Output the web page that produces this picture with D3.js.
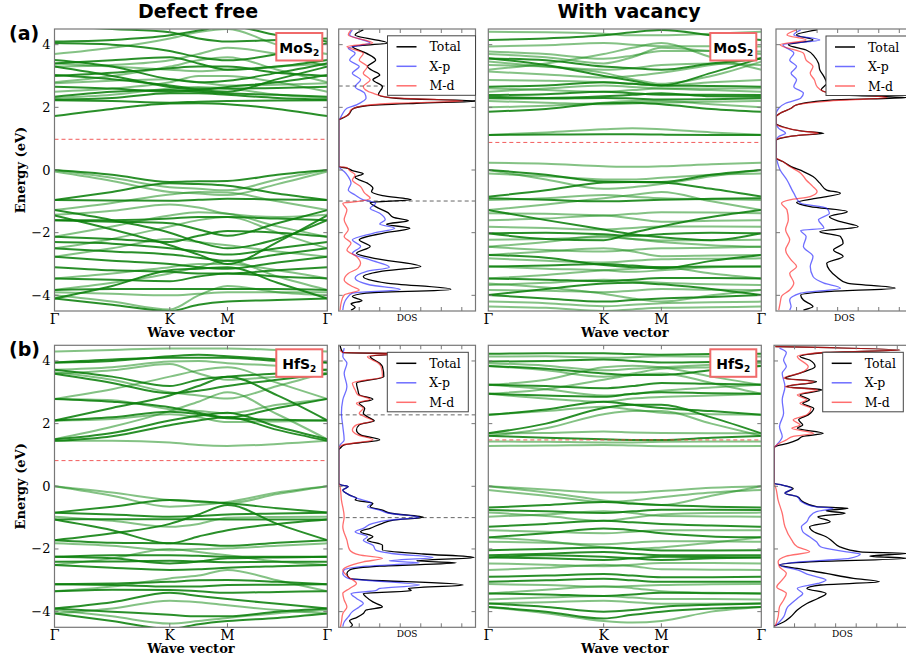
<!DOCTYPE html>
<html><head><meta charset="utf-8">
<script src="https://cdn.jsdelivr.net/npm/d3@7"></script>
<style>body{margin:0;background:#fff}svg{display:block}</style>
</head><body>
<svg id="c" width="906" height="659"></svg>
<script>
// ---------------- DATA ----------------
const kLabels = ["Γ", "K", "M", "Γ"];
const kLabelPos = [0, 0.4226, 0.634, 1];
const kNodes = [0, 0.2113, 0.4226, 0.528, 0.634, 0.817, 1];
const yTicks = [-4, -2, 0, 2, 4];
const columnTitles = ["Defect free", "With vacancy"];
const rowLabels = ["(a)", "(b)"];
const materials = ["MoS", "HfS"];
const legendNames = ["Total", "X-p", "M-d"];

// band energies (eV) at kNodes
const tlDark = [
 [1.72,1.95,2.12,2.13,2.1,1.95,1.72],[2.23,2.2,2.15,2.18,2.2,2.22,2.23],[2.25,2.3,2.45,2.45,2.4,2.3,2.25],
 [2.34,2.5,2.55,2.5,2.45,2.4,2.34],[2.66,2.6,2.5,2.55,2.65,2.8,3.03],[3.03,2.9,2.7,2.6,2.6,2.62,2.66],
 [3.3,3.0,2.65,2.55,2.5,2.9,3.3],[3.51,3.3,2.9,2.8,2.85,3.1,3.4],[3.4,3.5,3.6,3.4,3.2,3.3,3.51],
 [4.05,4.0,3.8,3.6,3.5,3.7,4.05],[4.1,4.15,4.3,4.45,4.6,4.3,4.1],[3.0,3.1,3.25,3.3,3.3,3.1,3.0],
 [4.6,4.5,4.4,4.2,4.1,4.15,4.2],
 [0,-0.15,-0.38,-0.36,-0.35,-0.15,0],[-0.96,-0.7,-0.42,-0.45,-0.5,-0.75,-0.96],[-0.96,-0.97,-0.98,-0.95,-0.92,-0.94,-0.96],
 [-1.28,-1.6,-2.0,-2.3,-2.5,-2.2,-1.6],[-1.6,-1.65,-1.7,-1.9,-2.1,-1.7,-1.28],[-1.6,-1.6,-1.55,-1.5,-1.5,-1.55,-1.6],
 [-2.13,-2.2,-2.3,-2.1,-1.95,-2.0,-2.13],[-2.5,-2.6,-2.7,-2.8,-2.9,-2.7,-2.5],[-2.77,-2.9,-3.0,-3.1,-3.15,-2.95,-2.77],
 [-3.1,-3.2,-3.25,-3.3,-3.3,-3.2,-3.1],[-3.46,-3.5,-3.55,-3.4,-3.3,-3.4,-3.46],[-3.83,-3.8,-3.8,-3.8,-3.8,-3.8,-3.83],
 [-4.1,-3.7,-3.2,-3.15,-3.1,-3.6,-4.1],[-4.1,-4.3,-4.5,-4.3,-4.2,-4.15,-4.1],[-1.45,-1.9,-2.4,-2.7,-3.0,-2.3,-1.45],
 [-2.3,-2.35,-2.5,-2.6,-2.7,-2.5,-2.3]
];
const tlLight = [
 [2.3,2.4,2.6,2.65,2.6,2.4,2.3],[2.77,2.85,2.9,2.8,2.7,2.72,2.77],[3.4,3.3,3.2,3.15,3.2,3.3,3.4],
 [3.3,3.35,3.5,3.7,3.9,3.7,3.3],[3.7,3.9,4.2,4.4,4.5,4.0,3.7],[2.8,3.0,3.3,3.5,3.6,3.2,2.8],
 [2.5,2.6,2.8,3.0,3.0,2.8,2.5],
 [0,-0.25,-0.55,-0.6,-0.65,-0.3,0],[-0.05,-0.35,-0.7,-0.75,-0.8,-0.45,-0.05],[-1.28,-1.05,-0.78,-0.7,-0.72,-1.0,-1.28],
 [-1.43,-1.3,-1.1,-1.2,-1.4,-1.5,-1.43],[-2.13,-1.8,-1.45,-1.35,-1.4,-1.8,-2.13],[-2.5,-2.2,-1.8,-1.6,-1.5,-2.0,-2.5],
 [-2.77,-2.5,-2.2,-2.3,-2.4,-2.6,-2.77],[-3.46,-3.3,-3.1,-3.0,-3.0,-3.2,-3.46],[-3.83,-3.6,-3.3,-3.1,-2.9,-3.4,-3.83],
 [-4.0,-4.2,-4.45,-4.0,-3.7,-3.9,-4.0],[-3.9,-3.95,-4.0,-3.95,-3.9,-3.9,-3.9]
];
const trDark = [
 [4.15,4.2,4.3,4.4,4.47,4.3,4.15],[3.57,3.35,3.0,2.85,2.7,3.1,3.57],[3.56,3.5,3.3,3.25,3.2,3.4,3.56],
 [2.66,2.7,2.8,2.75,2.7,2.68,2.66],[2.39,2.42,2.5,2.45,2.4,2.4,2.39],[2.34,2.3,2.35,2.4,2.45,2.35,2.34],
 [2.29,2.28,2.3,2.28,2.25,2.26,2.29],[1.86,1.95,2.13,2.15,2.1,1.95,1.86],[1.12,1.13,1.14,1.14,1.13,1.12,1.12],
 [0,-0.15,-0.37,-0.38,-0.38,-0.15,0],[-0.85,-0.65,-0.4,-0.38,-0.4,-0.6,-0.85],[-0.9,-0.95,-1.0,-0.98,-0.95,-0.92,-0.9],
 [-1.28,-1.6,-1.9,-2.05,-2.15,-2.24,-2.02],[-2.02,-2.2,-2.24,-2.0,-1.8,-1.5,-1.28],[-2.02,-2.0,-2.05,-2.1,-2.05,-2.0,-2.02],
 [-2.71,-2.8,-3.03,-3.1,-3.14,-2.9,-2.71],[-3.08,-3.05,-3.0,-3.05,-3.1,-3.08,-3.08],[-3.46,-3.5,-3.55,-3.5,-3.45,-3.45,-3.46],
 [-3.99,-3.8,-3.62,-3.6,-3.65,-3.8,-3.99],[-3.99,-4.1,-4.2,-4.15,-4.1,-4.05,-3.99]
];
const trLight = [
 [4.41,4.4,4.35,4.3,4.3,4.35,4.41],[3.94,3.98,4.05,4.0,3.95,3.95,3.94],[3.78,3.7,3.55,3.65,3.8,3.8,3.78],
 [3.46,3.3,3.1,2.9,2.75,3.0,3.46],[3.35,3.3,3.2,3.25,3.35,3.4,3.35],[3.14,3.05,2.95,3.0,3.1,3.35,3.57],
 [2.87,2.85,2.8,2.75,2.7,2.8,2.87],[2.61,2.55,2.5,2.55,2.6,2.6,2.61],[2.5,2.6,2.7,2.65,2.6,2.55,2.5],
 [2.2,2.15,2.1,2.12,2.15,2.18,2.2],[2.0,2.05,2.15,2.2,2.2,2.1,2.0],[3.7,3.6,3.4,3.6,3.9,3.8,3.7],
 [3.2,3.4,3.7,3.9,4.05,3.6,3.2],[1.12,1.2,1.3,1.33,1.3,1.2,1.12],
 [0.23,0.2,0.12,0.1,0.12,0.18,0.23],[-0.11,-0.2,-0.3,-0.3,-0.25,-0.15,-0.11],[0,-0.3,-0.6,-0.55,-0.45,-0.2,0],
 [-0.96,-0.9,-0.8,-0.85,-0.9,-0.93,-0.96],[-1.28,-1.1,-0.9,-0.8,-0.7,-1.0,-1.28],[-1.38,-1.4,-1.45,-1.4,-1.35,-1.36,-1.38],
 [-1.6,-1.55,-1.45,-1.55,-1.65,-1.62,-1.6],[-1.81,-1.85,-1.9,-1.85,-1.8,-1.8,-1.81],
 [-2.23,-2.2,-2.15,-2.2,-2.25,-2.24,-2.23],[-2.45,-2.3,-2.1,-2.2,-2.3,-2.4,-2.45],[-2.45,-2.55,-2.6,-2.55,-2.5,-2.48,-2.45],
 [-2.71,-2.6,-2.5,-2.6,-2.75,-2.73,-2.71],[-2.82,-2.9,-2.95,-2.9,-2.85,-2.83,-2.82],[-3.08,-3.15,-3.2,-3.25,-3.2,-3.1,-3.08],
 [-3.46,-3.35,-3.2,-3.15,-3.1,-3.3,-3.46],[-3.67,-3.6,-3.5,-3.55,-3.6,-3.65,-3.67],[-3.83,-3.85,-3.9,-3.85,-3.8,-3.82,-3.83],
 [-3.62,-3.75,-3.95,-4.1,-4.2,-4.0,-3.83],[-4.2,-4.25,-4.35,-4.3,-4.25,-4.22,-4.2],[-4.36,-4.4,-4.5,-4.45,-4.4,-4.38,-4.36]
];
const blDark = [
 [1.45,1.6,1.95,2.1,2.2,1.8,1.45],[1.5,1.7,2.1,2.25,2.35,1.9,1.5],[2.1,2.2,2.38,2.3,2.17,2.12,2.1],
 [2.79,2.7,2.52,2.35,2.2,2.5,2.79],[3.59,3.3,2.97,3.05,3.2,3.4,3.59],[3.72,3.5,3.2,3.4,3.5,3.6,3.72],
 [3.95,4.05,4.1,4.1,4.1,4.0,3.95],[3.95,4.0,4.15,4.2,4.15,4.05,3.95],[2.1,2.5,2.9,3.2,3.5,2.9,2.1],
 [-0.84,-0.65,-0.44,-0.48,-0.54,-0.7,-0.84],[-0.84,-0.9,-0.97,-0.95,-0.9,-0.87,-0.84],[-1.06,-1.05,-1.05,-1.05,-1.06,-1.06,-1.06],
 [-1.06,-1.4,-1.82,-1.6,-1.4,-1.2,-1.06],[-1.72,-1.5,-1.2,-0.9,-0.6,-1.2,-1.72],[-1.72,-1.8,-1.82,-1.85,-1.9,-1.8,-1.72],
 [-2.25,-2.2,-2.2,-2.22,-2.25,-2.25,-2.25],[-2.25,-2.3,-2.46,-2.4,-2.3,-2.27,-2.25],[-2.41,-2.4,-2.38,-2.4,-2.42,-2.41,-2.41],
 [-2.51,-2.6,-2.67,-2.65,-2.6,-2.55,-2.51],[-3.13,-3.1,-3.05,-3.0,-2.99,-3.05,-3.13],[-3.13,-3.15,-3.2,-3.2,-3.15,-3.14,-3.13],
 [-3.35,-3.3,-3.31,-3.35,-3.4,-3.37,-3.35],[-3.9,-3.7,-3.4,-3.5,-3.6,-3.75,-3.9],[-3.9,-4.0,-4.1,-4.15,-4.15,-4.0,-3.9],
 [-4.06,-4.3,-4.55,-4.4,-4.3,-4.2,-4.06]
];
const blLight = [
 [1.45,1.45,1.4,1.32,1.29,1.35,1.45],[2.1,2.15,2.3,2.2,2.05,2.07,2.1],[2.79,2.75,2.46,2.4,2.33,2.6,2.79],
 [3.64,3.4,3.0,2.9,2.8,3.2,3.64],[3.72,3.8,3.98,4.0,3.93,3.85,3.72],[1.5,1.9,2.4,2.7,3.0,2.3,1.5],
 [2.79,3.1,3.5,3.7,3.8,3.3,2.79],[3.59,3.7,3.9,3.6,3.4,3.5,3.59],[4.3,4.35,4.4,4.4,4.4,4.35,4.3],
 [0,-0.2,-0.44,-0.5,-0.54,-0.25,0],[0,-0.3,-0.65,-0.6,-0.5,-0.2,0],[-0.97,-1.1,-1.29,-1.2,-1.0,-0.98,-0.97],
 [-1.82,-1.9,-2.04,-2.0,-1.98,-1.9,-1.82],[-2.51,-2.3,-2.0,-2.1,-2.2,-2.4,-2.51],[-3.35,-3.2,-2.94,-2.85,-2.67,-3.0,-3.35],
 [-3.95,-4.15,-4.38,-4.3,-4.2,-4.05,-3.95],[-4.06,-3.9,-3.65,-3.7,-3.8,-3.95,-4.06]
];
const brDark = [
 [4.23,4.25,4.25,4.22,4.2,4.22,4.23],[3.98,4.0,4.05,4.0,3.95,3.97,3.98],[3.84,3.75,3.6,3.55,3.55,3.7,3.84],
 [3.24,3.2,3.13,3.2,3.3,3.27,3.24],[2.95,2.9,2.86,2.95,3.0,2.97,2.95],[2.28,2.45,2.7,2.6,2.5,2.4,2.28],
 [1.69,2.0,2.5,2.6,2.6,2.2,1.69],[1.61,1.55,1.5,1.48,1.48,1.55,1.61],
 [-0.68,-0.6,-0.5,-0.55,-0.6,-0.65,-0.68],[-0.76,-0.8,-0.85,-0.8,-0.75,-0.75,-0.76],[-1.29,-1.2,-1.1,-1.15,-1.2,-1.25,-1.29],
 [-1.63,-1.5,-1.35,-1.4,-1.5,-1.6,-1.63],[-2.04,-2.0,-1.95,-2.0,-2.05,-2.05,-2.04],[-2.2,-2.15,-2.1,-2.15,-2.2,-2.2,-2.2],
 [-2.27,-2.3,-2.35,-2.3,-2.25,-2.26,-2.27],[-2.27,-2.2,-2.25,-2.3,-2.35,-2.3,-2.27],[-2.89,-2.85,-2.8,-2.85,-2.9,-2.9,-2.89],
 [-3.05,-3.0,-2.95,-3.0,-3.05,-3.05,-3.05],[-3.42,-3.45,-3.5,-3.45,-3.4,-3.41,-3.42],[-3.74,-3.85,-4.0,-3.95,-3.85,-3.78,-3.74],
 [-3.85,-4.0,-4.22,-4.1,-4.0,-3.9,-3.85]
];
const brLight = [
 [4.14,4.15,4.1,4.12,4.15,4.14,4.14],[3.93,3.85,3.7,3.75,3.8,3.88,3.93],[3.84,3.7,3.5,3.6,3.75,3.8,3.84],
 [3.24,3.1,2.9,2.95,3.05,3.15,3.24],[2.95,2.8,2.7,2.8,2.85,2.9,2.95],[2.28,2.4,2.54,2.45,2.35,2.3,2.28],
 [1.61,1.85,2.3,2.4,2.4,2.0,1.61],[1.69,1.7,1.75,1.72,1.7,1.69,1.69],[1.43,1.42,1.4,1.4,1.42,1.43,1.43],
 [1.29,1.3,1.32,1.3,1.28,1.28,1.29],[2.95,3.1,3.4,3.55,3.6,3.3,2.95],[3.24,3.4,3.8,3.85,3.8,3.5,3.24],
 [0,-0.1,-0.2,-0.2,-0.15,-0.05,0],[-0.12,-0.3,-0.5,-0.45,-0.35,-0.2,-0.12],[0,-0.2,-0.45,-0.55,-0.6,-0.3,0],
 [-0.84,-0.95,-1.1,-1.0,-0.9,-0.85,-0.84],[-0.97,-0.9,-0.8,-0.85,-0.95,-0.96,-0.97],[-1.4,-1.45,-1.5,-1.45,-1.4,-1.4,-1.4],
 [-1.77,-1.8,-1.85,-1.8,-1.75,-1.75,-1.77],[-1.63,-1.75,-1.95,-2.0,-1.95,-1.8,-1.63],[-2.46,-2.5,-2.55,-2.5,-2.45,-2.45,-2.46],
 [-2.67,-2.6,-2.5,-2.55,-2.65,-2.66,-2.67],[-3.12,-3.15,-3.2,-3.18,-3.15,-3.13,-3.12],[-3.42,-3.3,-3.2,-3.25,-3.35,-3.4,-3.42],
 [-3.61,-3.55,-3.5,-3.55,-3.6,-3.6,-3.61],[-3.74,-3.7,-3.65,-3.7,-3.75,-3.75,-3.74],[-3.85,-4.05,-4.3,-4.35,-4.3,-4.0,-3.85]
];

// mid-gap (red dashed) energies per band panel: TL, TR, BL, BR
const midGap = [0.98, 0.88, 0.82, 1.48];
// grey dashed markers in DOS panels
const tlDosMarks = [2.68, -0.99];
const blDosMarks = [2.28, -1.0];

// DOS [energy eV, DOS arb. units 0-100]
const tlTotal = [[4.47,18],[4.31,12],[4.05,36],[3.94,10],[3.73,20],[3.51,27],[3.3,21],[3.19,24],[3.03,30],[2.88,25],[2.66,32],[2.4,29],[2.29,42],[2.2,103],[2.13,57],[2.05,20],[1.94,10],[1.81,8],[1.73,6],[1.62,1],[1.6,0],[0.11,0],[0.06,6],[-0.02,10],[-0.12,18],[-0.23,12],[-0.42,21],[-0.58,25],[-0.69,24],[-0.82,32],[-0.95,53],[-1.04,23],[-1.17,27],[-1.36,36],[-1.51,40],[-1.62,51],[-1.73,35],[-1.86,52],[-2.02,32],[-2.23,15],[-2.44,23],[-2.66,13],[-2.82,26],[-3.08,60],[-3.24,30],[-3.4,18],[-3.61,35],[-3.81,82],[-3.93,20],[-4.04,10],[-4.17,17],[-4.27,9],[-4.38,12],[-4.47,9]];
const tlXp = [[4.47,10],[4.31,8],[4.05,23],[3.89,7],[3.73,12],[3.51,8],[3.3,15],[3.09,10],[2.88,16],[2.66,12],[2.45,19],[2.29,20],[2.2,18],[2.08,13],[1.97,6],[1.81,3],[1.65,1],[1.6,0],[0.11,0],[0.06,1],[-0.05,4],[-0.21,7],[-0.42,9],[-0.64,7],[-0.8,12],[-0.95,18],[-1.06,27],[-1.22,23],[-1.38,30],[-1.59,34],[-1.72,30],[-1.86,41],[-2.02,25],[-2.23,10],[-2.44,16],[-2.66,10],[-2.87,23],[-3.1,37],[-3.24,20],[-3.45,12],[-3.67,23],[-3.81,45],[-3.93,10],[-4.09,6],[-4.25,4],[-4.47,3]];
const tlMd = [[4.47,9],[4.31,7],[4.05,25],[3.94,6],[3.73,18],[3.51,15],[3.3,21],[3.09,18],[2.88,23],[2.66,18],[2.45,25],[2.32,36],[2.2,91],[2.13,42],[2.05,18],[1.92,9],[1.76,7],[1.65,2],[1.6,0],[0.11,0],[0.08,6],[-0.02,8],[-0.16,12],[-0.32,10],[-0.53,16],[-0.74,19],[-0.9,23],[-1.01,13],[-1.06,3],[-1.27,6],[-1.59,4],[-1.91,7],[-2.12,4],[-2.34,9],[-2.55,6],[-2.76,13],[-2.98,16],[-3.14,14],[-3.3,7],[-3.51,4],[-3.72,10],[-3.83,15],[-3.99,4],[-4.2,2],[-4.47,1]];
const trTotal = [[4.47,30],[4.31,15],[4.15,27],[4.0,9],[3.83,22],[3.62,28],[3.41,31],[3.19,32],[2.98,35],[2.77,37],[2.56,33],[2.4,49],[2.31,95],[2.24,42],[2.08,15],[1.97,11],[1.81,3],[1.7,0],[1.49,0],[1.39,4],[1.25,18],[1.17,35],[1.1,15],[1.01,3],[0.94,0],[0.38,0],[0.27,5],[0.11,11],[-0.05,20],[-0.21,27],[-0.42,32],[-0.64,37],[-0.74,47],[-0.9,30],[-1.04,15],[-1.17,25],[-1.33,52],[-1.49,39],[-1.65,47],[-1.81,60],[-1.97,32],[-2.12,47],[-2.34,49],[-2.55,42],[-2.76,49],[-2.98,37],[-3.19,39],[-3.4,44],[-3.61,52],[-3.77,87],[-3.88,37],[-3.99,18],[-4.15,20],[-4.36,27],[-4.47,20]];
const trXp = [[4.47,18],[4.31,13],[4.15,32],[4.0,5],[3.73,13],[3.51,10],[3.3,15],[3.09,11],[2.88,15],[2.66,13],[2.45,20],[2.29,18],[2.13,7],[1.97,2],[1.76,0],[1.49,0],[1.33,2],[1.17,7],[1.07,2],[0.94,0],[0.38,0],[0.32,0.5],[0.0,3],[-0.32,8],[-0.74,13],[-1.06,18],[-1.22,37],[-1.38,39],[-1.59,31],[-1.86,35],[-1.93,18],[-2.12,22],[-2.44,20],[-2.76,27],[-3.08,25],[-3.4,27],[-3.61,35],[-3.77,47],[-3.93,18],[-4.15,10],[-4.36,11],[-4.47,10]];
const trMd = [[4.47,15],[4.31,8],[4.15,22],[4.0,3],[3.73,20],[3.51,22],[3.3,27],[3.09,25],[2.88,28],[2.66,30],[2.5,35],[2.31,81],[2.2,39],[2.08,15],[1.97,11],[1.81,3],[1.7,0],[1.49,0],[1.39,3],[1.25,18],[1.17,31],[1.1,15],[1.01,2],[0.94,0],[0.38,0],[0.32,3],[0.11,10],[-0.1,18],[-0.32,22],[-0.53,27],[-0.69,30],[-0.85,25],[-0.95,10],[-1.06,4],[-1.27,8],[-1.59,9],[-1.91,7],[-2.23,10],[-2.55,7],[-2.87,11],[-3.08,15],[-3.3,10],[-3.61,13],[-3.83,10],[-4.04,4],[-4.25,3],[-4.47,2]];
const blTotal = [[4.49,1],[4.27,3],[4.22,70],[4.2,37],[4.14,23],[3.93,30],[3.82,32],[3.5,33],[3.29,13],[3.08,14],[2.92,15],[2.78,25],[2.65,15],[2.49,19],[2.33,18],[2.22,21],[2.09,26],[1.96,15],[1.8,13],[1.64,16],[1.48,30],[1.39,15],[1.32,4],[1.21,1],[1.16,0],[0.09,0],[0.04,2],[-0.01,7],[-0.12,3],[-0.28,8],[-0.38,13],[-0.44,12],[-0.54,25],[-0.65,23],[-0.76,32],[-0.86,38],[-0.99,62],[-1.08,40],[-1.18,32],[-1.34,23],[-1.45,16],[-1.61,25],[-1.72,21],[-1.88,32],[-2.03,32],[-2.16,62],[-2.27,99],[-2.38,57],[-2.44,86],[-2.55,30],[-2.67,8],[-2.78,6],[-2.94,8],[-3.15,91],[-3.26,51],[-3.33,53],[-3.42,18],[-3.53,20],[-3.69,25],[-3.85,32],[-3.95,20],[-4.06,18],[-4.19,13],[-4.29,8],[-4.43,10],[-4.54,7]];
const blXp = [[4.41,4],[4.14,3],[3.93,6],[3.61,4],[3.18,6],[2.76,3],[2.33,2],[1.91,3],[1.48,4],[1.32,1],[1.21,0],[0.09,0],[0.04,2],[-0.01,7],[-0.12,3],[-0.28,8],[-0.38,13],[-0.54,24],[-0.65,21],[-0.76,30],[-0.86,37],[-0.99,59],[-1.08,37],[-1.18,25],[-1.34,18],[-1.45,12],[-1.61,21],[-1.72,18],[-1.88,25],[-2.03,27],[-2.16,42],[-2.27,69],[-2.38,37],[-2.44,59],[-2.55,20],[-2.67,4],[-2.78,3],[-2.94,7],[-3.15,59],[-3.26,30],[-3.33,27],[-3.42,9],[-3.58,13],[-3.74,18],[-3.85,15],[-4.0,10],[-4.17,7],[-4.33,4],[-4.48,3]];
const blMd = [[4.35,1],[4.27,3],[4.22,70],[4.2,35],[4.14,21],[3.93,29],[3.82,31],[3.5,32],[3.29,10],[3.08,12],[2.92,14],[2.78,23],[2.65,13],[2.49,18],[2.33,15],[2.22,19],[2.09,25],[1.96,13],[1.8,10],[1.64,14],[1.48,25],[1.39,13],[1.32,3],[1.21,0],[0.09,0],[-0.01,1],[-0.44,2],[-0.97,4],[-1.29,3],[-1.72,6],[-2.03,8],[-2.19,15],[-2.3,32],[-2.41,18],[-2.57,6],[-2.67,3],[-2.89,7],[-3.1,13],[-3.26,8],[-3.42,3],[-3.63,4],[-3.85,6],[-4.06,3],[-4.33,2],[-4.54,1]];
const brTotal = [[4.46,1],[4.35,92],[4.27,38],[4.14,19],[4.03,26],[3.82,30],[3.61,19],[3.45,8],[3.34,31],[3.18,9],[3.08,35],[2.92,19],[2.76,26],[2.65,21],[2.49,29],[2.28,25],[2.12,18],[1.96,21],[1.85,17],[1.69,36],[1.59,21],[1.48,17],[1.37,10],[1.27,1],[1.21,0],[0.09,0],[0.04,6],[-0.07,14],[-0.22,8],[-0.33,17],[-0.49,21],[-0.65,31],[-0.7,54],[-0.78,38],[-0.86,52],[-0.97,32],[-1.13,41],[-1.29,26],[-1.45,29],[-1.61,38],[-1.77,43],[-1.93,48],[-2.09,63],[-2.14,97],[-2.23,70],[-2.3,97],[-2.41,26],[-2.51,4],[-2.62,17],[-2.78,38],[-2.94,58],[-3.05,77],[-3.15,34],[-3.26,24],[-3.42,38],[-3.58,32],[-3.74,24],[-3.95,17],[-4.17,12],[-4.33,7],[-4.46,0]];
const brXp = [[4.41,4],[4.27,9],[4.03,7],[3.82,9],[3.61,6],[3.18,8],[2.76,6],[2.33,7],[1.91,4],[1.59,6],[1.32,2],[1.21,0],[0.09,0],[0.04,6],[-0.07,13],[-0.22,8],[-0.33,17],[-0.49,20],[-0.65,30],[-0.7,43],[-0.81,31],[-0.97,26],[-1.13,24],[-1.29,20],[-1.45,21],[-1.61,26],[-1.77,31],[-1.93,34],[-2.09,53],[-2.16,63],[-2.3,55],[-2.41,19],[-2.51,4],[-2.67,17],[-2.83,26],[-2.99,38],[-3.1,32],[-3.26,17],[-3.42,21],[-3.58,17],[-3.85,10],[-4.17,7],[-4.46,1]];
const brMd = [[4.46,1],[4.35,92],[4.27,36],[4.14,17],[3.82,25],[3.61,19],[3.45,7],[3.34,29],[3.18,8],[3.08,32],[2.92,17],[2.76,24],[2.65,19],[2.49,27],[2.28,24],[2.12,14],[1.96,19],[1.85,13],[1.69,29],[1.59,14],[1.48,9],[1.32,2],[1.21,0],[0.09,0],[-0.01,1],[-0.44,3],[-0.86,6],[-1.29,8],[-1.72,13],[-1.93,17],[-2.09,26],[-2.23,9],[-2.41,3],[-2.57,4],[-2.78,9],[-2.99,6],[-3.21,2],[-3.42,9],[-3.63,7],[-3.85,4],[-4.17,3],[-4.46,1]];

// ---------------- DRAWING ----------------
const svg = d3.select("#c");
const SERIF = "'DejaVu Serif', serif";
const SANS = "'DejaVu Sans', sans-serif";
const FRAME = "#777";
const rows = [{y0: 29, y1: 311}, {y0: 345.3, y1: 627.3}];
const bandCols = [{x0: 54.5, x1: 327.3}, {x0: 488.3, x1: 761.3}];
const dosCols = [[{x0: 338.7, x1: 475.5}, {x0: 776, x1: 913}], [{x0: 338.7, x1: 475.5}, {x0: 774, x1: 911}]];
const eDomain = [-4.5, 4.5];
let clipId = 0;

function clip(x0, y0, w, h) {
  const id = "cp" + (clipId++);
  svg.append("clipPath").attr("id", id).append("rect").attr("x", x0).attr("y", y0).attr("width", w).attr("height", h);
  return "url(#" + id + ")";
}

function frameAndYTicks(g, x0, x1, y, showLabels) {
  yTicks.forEach(t => {
    const yy = y(t);
    g.append("line").attr("x1", x0).attr("x2", x0 + 4).attr("y1", yy).attr("y2", yy).attr("stroke", FRAME);
    g.append("line").attr("x1", x1).attr("x2", x1 - 4).attr("y1", yy).attr("y2", yy).attr("stroke", FRAME);
    if (showLabels) {
      g.append("text").attr("x", x0 - 4).attr("y", yy + 4.5).attr("text-anchor", "end")
        .attr("font-family", SERIF).attr("font-size", 13)
        .text(t < 0 ? "\u2212" + Math.abs(t) : String(t));
    }
  });
}

function drawBand(r, c, dark, light, gapE, mat) {
  const {y0, y1} = rows[r], {x0, x1} = bandCols[c];
  const x = d3.scaleLinear().domain([0, 1]).range([x0, x1]);
  const y = d3.scaleLinear().domain(eDomain).range([y1, y0]);
  const g = svg.append("g");
  const inner = g.append("g").attr("clip-path", clip(x0, y0, x1 - x0, y1 - y0));
  const line = d3.line().x((d, i) => x(kNodes[i])).y(d => y(d)).curve(d3.curveMonotoneX);
  inner.selectAll(null).data(light).join("path").attr("d", line)
    .attr("fill", "none").attr("stroke", "#1f8f1f").attr("stroke-opacity", 0.55).attr("stroke-width", 2);
  inner.selectAll(null).data(dark).join("path").attr("d", line)
    .attr("fill", "none").attr("stroke", "#0b800b").attr("stroke-opacity", 0.88).attr("stroke-width", 2);
  inner.append("line").attr("x1", x0).attr("x2", x1).attr("y1", y(gapE)).attr("y2", y(gapE))
    .attr("stroke", "#f04040").attr("stroke-opacity", 0.85).attr("stroke-dasharray", "4,3").attr("stroke-width", 1);
  g.append("rect").attr("x", x0).attr("y", y0).attr("width", x1 - x0).attr("height", y1 - y0)
    .attr("fill", "none").attr("stroke", FRAME).attr("stroke-width", 1.2);
  frameAndYTicks(g, x0, x1, y, c === 0);
  kLabelPos.forEach((p, i) => {
    if (i > 0 && i < 3) {
      g.append("line").attr("x1", x(p)).attr("x2", x(p)).attr("y1", y1).attr("y2", y1 - 4).attr("stroke", FRAME);
      g.append("line").attr("x1", x(p)).attr("x2", x(p)).attr("y1", y0).attr("y2", y0 + 4).attr("stroke", FRAME);
    }
    g.append("text").attr("x", x(p)).attr("y", y1 + 12.5).attr("text-anchor", "middle")
      .attr("font-family", SERIF).attr("font-size", 14).text(kLabels[i]);
  });
  g.append("text").attr("x", (x0 + x1) / 2).attr("y", y1 + 26).attr("text-anchor", "middle")
    .attr("font-family", SERIF).attr("font-weight", "bold").attr("font-size", 13).text("Wave vector");
  if (c === 0) {
    g.append("text").attr("transform", `translate(${25},${(y0 + y1) / 2}) rotate(-90)`)
      .attr("text-anchor", "middle").attr("font-family", SERIF).attr("font-weight", "bold")
      .attr("font-size", 13).text("Energy (eV)");
  }
  const bx = x1 - 51, by = y0 + 4;
  g.append("rect").attr("x", bx).attr("y", by).attr("width", 46).attr("height", 27.5)
    .attr("fill", "#fff").attr("stroke", "#f06a6a").attr("stroke-width", 2);
  const t = g.append("text").attr("x", bx + 23).attr("y", by + 20).attr("text-anchor", "middle")
    .attr("font-family", SANS).attr("font-weight", "bold").attr("font-size", 14);
  t.append("tspan").text(mat);
  t.append("tspan").attr("font-size", 9).attr("dy", 3).text("2");
}

function drawDOS(r, c, tot, xp, md, marks, leg) {
  const {y0, y1} = rows[r], {x0, x1} = dosCols[r][c];
  const x = d3.scaleLinear().domain([0, 100]).range([x0, x1]);
  const y = d3.scaleLinear().domain(eDomain).range([y1, y0]);
  const g = svg.append("g");
  const inner = g.append("g").attr("clip-path", clip(x0, y0, Math.min(x1, 906) - x0, y1 - y0));
  const line = d3.line().x(d => x(d[1])).y(d => y(d[0])).curve(d3.curveMonotoneY);
  const asc = a => a.slice().sort((p, q) => p[0] - q[0]);
  marks.forEach(m => inner.append("line").attr("x1", x0).attr("x2", x1).attr("y1", y(m)).attr("y2", y(m))
    .attr("stroke", "#666").attr("stroke-dasharray", "4,3").attr("stroke-width", 1));
  inner.append("path").attr("d", line(asc(tot))).attr("fill", "none").attr("stroke", "#000").attr("stroke-width", 1.3);
  inner.append("path").attr("d", line(asc(xp))).attr("fill", "none").attr("stroke", "#2020ff").attr("stroke-opacity", 0.65).attr("stroke-width", 1.3);
  inner.append("path").attr("d", line(asc(md))).attr("fill", "none").attr("stroke", "#ff2020").attr("stroke-opacity", 0.65).attr("stroke-width", 1.3);
  g.append("rect").attr("x", x0).attr("y", y0).attr("width", x1 - x0).attr("height", y1 - y0)
    .attr("fill", "none").attr("stroke", FRAME).attr("stroke-width", 1.2);
  frameAndYTicks(g, x0, x1, y, false);
  [15, 30, 45, 60, 75, 90].forEach(v => {
    g.append("line").attr("x1", x(v)).attr("x2", x(v)).attr("y1", y1).attr("y2", y1 - 4).attr("stroke", FRAME);
    g.append("line").attr("x1", x(v)).attr("x2", x(v)).attr("y1", y0).attr("y2", y0 + 4).attr("stroke", FRAME);
  });
  g.append("text").attr("x", (x0 + x1) / 2).attr("y", y1 + 10).attr("text-anchor", "middle")
    .attr("font-family", SERIF).attr("font-size", 9).text("DOS");
  const lg = g.append("g");
  lg.append("rect").attr("x", leg.x).attr("y", leg.y).attr("width", leg.w).attr("height", 59.5)
    .attr("fill", "#fff").attr("stroke", "#444").attr("stroke-width", 1);
  const cols = [["#000", 1], ["#2020ff", 0.65], ["#ff2020", 0.65]];
  legendNames.forEach((n, i) => {
    const yy = leg.y + 11 + i * 19.5;
    lg.append("line").attr("x1", leg.x + 9).attr("x2", leg.x + 29).attr("y1", yy).attr("y2", yy)
      .attr("stroke", cols[i][0]).attr("stroke-opacity", cols[i][1]).attr("stroke-width", 1.5);
    lg.append("text").attr("x", leg.x + 42).attr("y", yy + 4.5).attr("font-family", SERIF)
      .attr("font-size", 12.5).text(n);
  });
}

drawBand(0, 0, tlDark, tlLight, midGap[0], materials[0]);
drawBand(0, 1, trDark, trLight, midGap[1], materials[0]);
drawBand(1, 0, blDark, blLight, midGap[2], materials[1]);
drawBand(1, 1, brDark, brLight, midGap[3], materials[1]);
drawDOS(0, 0, tlTotal, tlXp, tlMd, tlDosMarks, {x: 387.5, y: 35.8, w: 88});
drawDOS(0, 1, trTotal, trXp, trMd, [], {x: 826, y: 36, w: 90});
drawDOS(1, 0, blTotal, blXp, blMd, blDosMarks, {x: 387.3, y: 352.3, w: 81});
drawDOS(1, 1, brTotal, brXp, brMd, [], {x: 822.7, y: 352.3, w: 80.6});

svg.append("text").attr("x", 198).attr("y", 18).attr("text-anchor", "middle").attr("font-family", SANS)
  .attr("font-weight", "bold").attr("font-size", 19).text(columnTitles[0]);
svg.append("text").attr("x", 629).attr("y", 18).attr("text-anchor", "middle").attr("font-family", SANS)
  .attr("font-weight", "bold").attr("font-size", 19).text(columnTitles[1]);
svg.append("text").attr("x", 9).attr("y", 40).attr("font-family", SANS).attr("font-weight", "bold")
  .attr("font-size", 19).text(rowLabels[0]);
svg.append("text").attr("x", 9).attr("y", 356).attr("font-family", SANS).attr("font-weight", "bold")
  .attr("font-size", 19).text(rowLabels[1]);
</script>
</body></html>
